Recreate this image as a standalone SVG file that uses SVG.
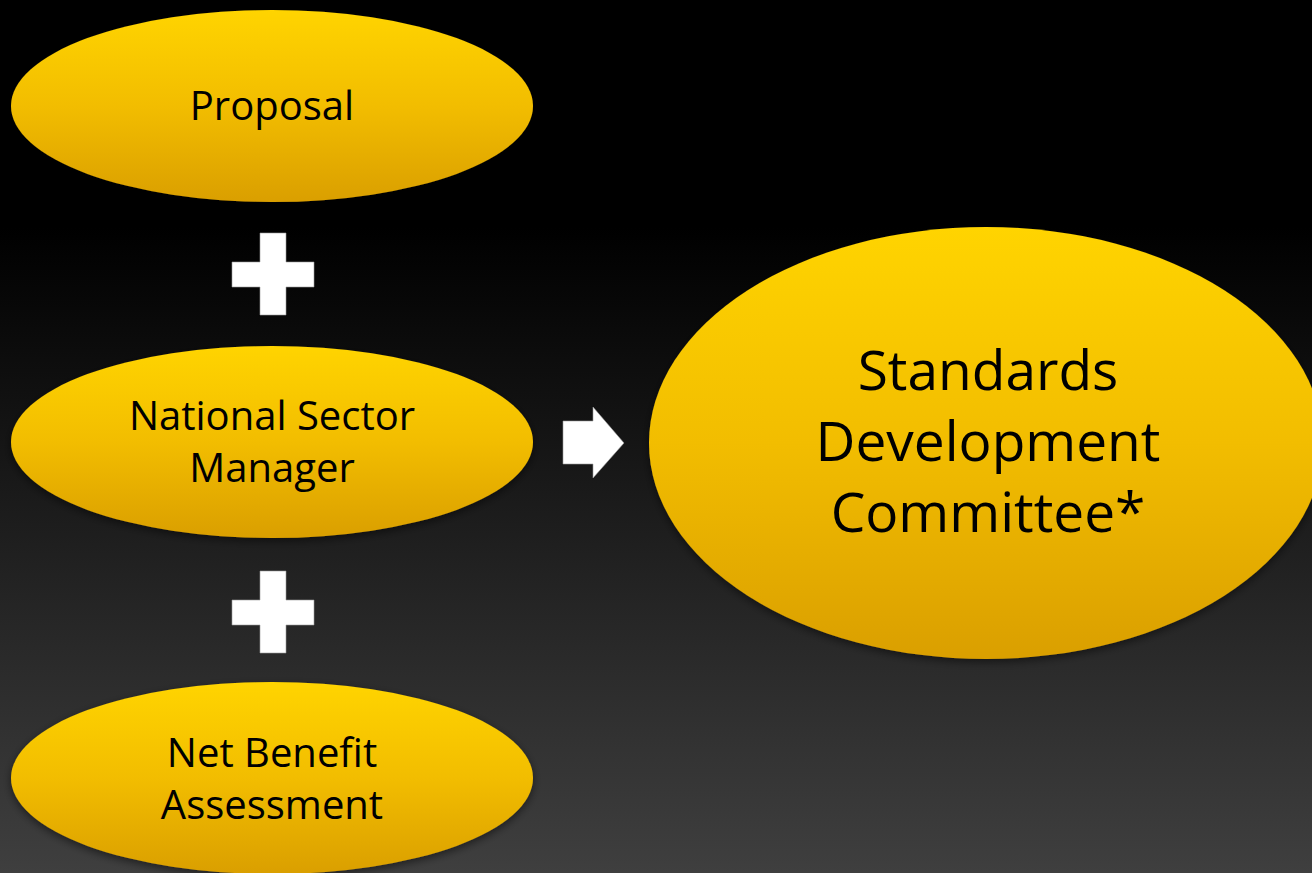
<svg xmlns="http://www.w3.org/2000/svg" width="1312" height="873" viewBox="0 0 1312 873">
<style>
.lbl{font-family:"Open Sans","Noto Sans","Liberation Sans",sans-serif;fill:#000;text-anchor:middle}
.s{font-size:40px}
.b{font-size:55px}
.node ellipse{fill:url(#gold);filter:url(#sh)}
.sym{fill:#fff;stroke:#9a9a9a;stroke-width:0.6}
</style>
<defs>
<linearGradient id="bg" x1="0" y1="0" x2="0" y2="1">
<stop offset="0" stop-color="#000"/>
<stop offset="0.26" stop-color="#000"/>
<stop offset="1" stop-color="#3f3f3f"/>
</linearGradient>
<linearGradient id="gold" x1="0" y1="0" x2="0" y2="1">
<stop offset="0" stop-color="#ffd400"/>
<stop offset="0.5" stop-color="#f2bd00"/>
<stop offset="1" stop-color="#da9f00"/>
</linearGradient>
<filter id="sh" x="-10%" y="-10%" width="120%" height="130%">
<feGaussianBlur in="SourceAlpha" stdDeviation="4"/>
<feOffset dy="3" result="o"/>
<feComponentTransfer><feFuncA type="linear" slope="0.5"/></feComponentTransfer>
<feMerge><feMergeNode/><feMergeNode in="SourceGraphic"/></feMerge>
</filter>
</defs>
<rect width="1312" height="873" fill="url(#bg)"/>
<g id="proposal" class="node">
<ellipse cx="272" cy="106" rx="261" ry="96"/>
<text class="lbl s" x="272" y="120">Proposal</text>
</g>
<g id="nsm" class="node">
<ellipse cx="272" cy="442" rx="261" ry="96"/>
<text class="lbl s" x="272" y="430">National Sector</text>
<text class="lbl s" x="272" y="482">Manager</text>
</g>
<g id="nba" class="node">
<ellipse cx="272" cy="778" rx="261" ry="96"/>
<text class="lbl s" x="272" y="767">Net Benefit</text>
<text class="lbl s" x="272" y="819">Assessment</text>
</g>
<g id="sdc" class="node">
<ellipse cx="986" cy="443" rx="337" ry="216"/>
<text class="lbl b" x="988" y="390">Standards</text>
<text class="lbl b" x="988" y="461">Development</text>
<text class="lbl b" x="988" y="532">Committee*</text>
</g>
<g id="connectors">
<path class="sym" d="M260 233H286V262H314V287H286V315H260V287H232V262H260Z"/>
<path class="sym" d="M260 571H286V600H314V625H286V653H260V625H232V600H260Z"/>
<path class="sym" d="M563 421H593V407L624 443L593 478V464H563Z"/>
</g>
</svg>
